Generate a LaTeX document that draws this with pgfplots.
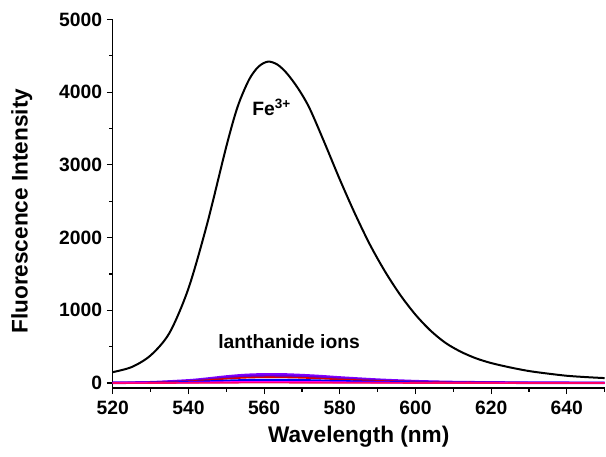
\documentclass[border=0pt]{standalone}
\usepackage{fontspec}
\setmainfont{Liberation Sans}
\usepackage{pgfplots}
\usepackage{pgfplotstable}
\pgfplotsset{compat=1.18}

\definecolor{lnviolet}{RGB}{128,0,255}
\definecolor{lnpurple}{RGB}{100,0,220}
\definecolor{lnred}{RGB}{220,0,0}
\definecolor{lnblue}{RGB}{0,0,255}
\definecolor{lnmagenta}{RGB}{255,0,255}
\definecolor{lnpink}{RGB}{255,0,102}

% Fe3+ emission
\pgfplotstableread{
wl    I
520   150
525   220
530   380
535   690
540   1300
545   2200
550   3250
553   3800
556   4170
558.5 4350
561   4420
563.5 4380
566   4260
569   4050
572   3780
576   3300
580   2800
584   2330
588   1900
592   1530
596   1210
600   940
604   720
608   550
612   430
616   340
620   275
625   215
630   165
635   130
640   100
645   82
650   68
}\fe

% lanthanide ions
\pgfplotstableread{
wl   a    b    c   d   e   f
520  4    3    3   2   1   0
530  10   8    7   4   1   0
540  36   30   24  14  5   2
545  60   50   40  23  8   3
550  89   74   59  33  11  4
555  110  92   73  41  14  5
560  119  99   79  45  15  5
565  118  98   78  44  15  5
570  108  90   72  41  14  4
575  94   78   62  35  12  4
580  76   63   50  28  9   3
590  46   38   30  17  6   2
600  25   21   17  10  3   1
610  13   11   9   5   2   1
620  8    7    5   3   1   0
630  4    4    3   2   1   0
640  3    2    2   1   0   0
650  2    2    1   1   0   0
}\ln

\begin{document}
\begin{tikzpicture}
\begin{axis}[
  scale only axis,
  width=369.75pt, height=277.1pt,
  xmin=520, xmax=650, ymin=-70, ymax=5000,
  axis lines=left,
  axis line style={-, line width=1pt},
  clip=false,
  xtick={520,540,...,640},
  minor xtick={530,550,...,650},
  ytick={0,1000,...,5000},
  minor ytick={500,1500,...,4500},
  tick align=outside,
  major tick length=4.5pt,
  minor tick length=2.6pt,
  every tick/.style={black, line width=0.9pt},
  /pgf/number format/assume math mode=true,
  /pgf/number format/1000 sep={},
  tick label style={font=\fontsize{14.5}{14.5}\selectfont\bfseries},
  xticklabel style={yshift=-2pt},
  label style={font=\fontsize{17}{17}\selectfont\bfseries},
  xlabel={Wavelength (nm)},
  ylabel={Fluorescence Intensity},
  xlabel style={at={(axis description cs:0.5,-0.133)}, anchor=center},
  ylabel style={at={(axis description cs:-0.185,0.48)}, anchor=center},
]
\addplot[lnviolet, line width=2pt, smooth] table[x=wl, y=a] {\ln};
\addplot[lnpurple, line width=1.5pt, smooth] table[x=wl, y=b] {\ln};
\addplot[lnred, line width=1.2pt, smooth] table[x=wl, y=c] {\ln};
\addplot[lnblue, line width=1.5pt, smooth] table[x=wl, y=d] {\ln};
\addplot[lnmagenta, line width=1.4pt, smooth] table[x=wl, y=e] {\ln};
\addplot[lnpink, line width=1.2pt, smooth] table[x=wl, y=f] {\ln};
\addplot[black, line width=1.5pt, smooth] table[x=wl, y=I] {\fe};
\node[font=\fontsize{14.5}{14.5}\selectfont\bfseries] at (axis cs:562,3790) {Fe\textsuperscript{3+}};
\node[font=\fontsize{14.5}{14.5}\selectfont\bfseries] at (axis cs:566.6,563) {lanthanide ions};
\path (rel axis cs:-0.2292,1.0528) rectangle (rel axis cs:1.0,-0.1867);
\end{axis}
\end{tikzpicture}
\end{document}
